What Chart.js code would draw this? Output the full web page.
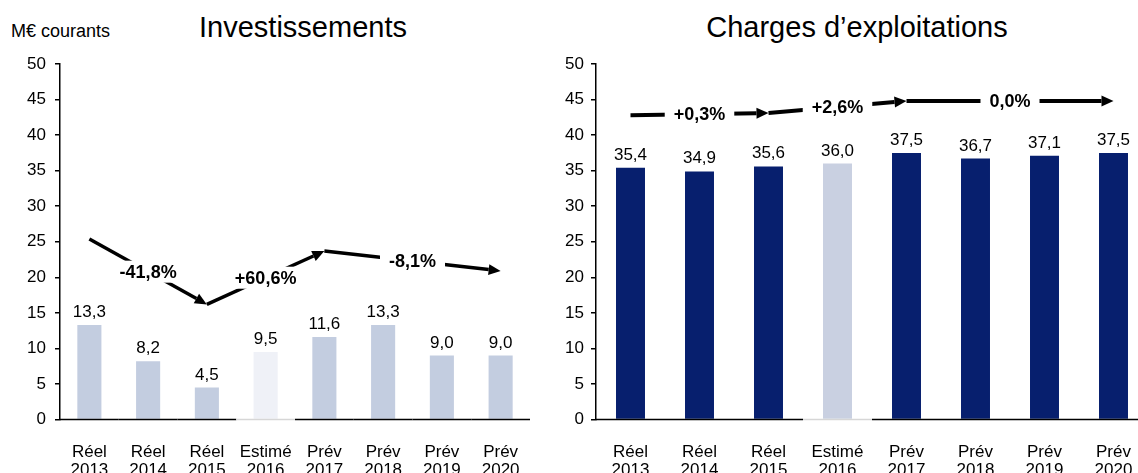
<!DOCTYPE html>
<html>
<head>
<meta charset="utf-8">
<script src="https://cdn.jsdelivr.net/npm/chart.js@4/dist/chart.umd.min.js"></script>
<style>
html, body { margin: 0; padding: 0; background: #fff; overflow: hidden; width: 1138px; height: 473px; }
canvas { position: absolute; top: 0; }
.t { position: absolute; font-family: "Liberation Sans", Arial, sans-serif; color: #000; white-space: nowrap; line-height: 1; }
.c { transform: translateX(-50%); }
</style>
</head>
<body>
<div class="t" style="left:11px; top:22px; font-size:18px;">M€ courants</div>
<div class="t c" style="left:303px; top:13px; font-size:29px;">Investissements</div>
<div class="t c" style="left:857px; top:13px; font-size:29px;">Charges d’exploitations</div>
<canvas id="invChart" width="545" height="495" style="left:0px"></canvas>
<canvas id="chgChart" width="610" height="495" style="left:540px"></canvas>
<script>
// données
const categories = [['Réel', '2013'], ['Réel', '2014'], ['Réel', '2015'], ['Estimé', '2016'],
                    ['Prév', '2017'], ['Prév', '2018'], ['Prév', '2019'], ['Prév', '2020']];
const investissements = [13.3, 8.2, 4.5, 9.5, 11.6, 13.3, 9.0, 9.0];
const charges = [35.4, 34.9, 35.6, 36.0, 37.5, 36.7, 37.1, 37.5];
const yTicks = [0, 5, 10, 15, 20, 25, 30, 35, 40, 45, 50];

// flèches de tendance (index de catégorie, niveau en M€)
const invTrendAt = [0, 2, 4, 7];
const invTrendLevel = [25.4, 16.2, 23.7, 20.9];
const invTrendLabels = ['-41,8%', '+60,6%', '-8,1%'];
const chgTrendAt = [0, 2, 4, 7];
const chgTrendLevel = [42.8, 43.1, 44.8, 44.8];
const chgTrendLabels = ['+0,3%', '+2,6%', '0,0%'];

const ESTIME = 3;
const FONT = '"Liberation Sans", Arial, sans-serif';
Chart.defaults.font.family = FONT;
Chart.defaults.font.size = 17;
Chart.defaults.color = '#000';

const fmt = v => v.toFixed(1).replace('.', ',');

function overlay(values, trendAt, trendLevel, trendLabels, lw) {
    return {
        id: 'overlay',
        afterDatasetsDraw(chart) {
            const ctx = chart.ctx;
            const xs = chart.scales.x, ys = chart.scales.y;
            const step = xs.getPixelForValue(1) - xs.getPixelForValue(0);
            const y0 = ys.getPixelForValue(0);
            ctx.save();
            // axe des abscisses (plus clair sous l'estimé)
            ctx.lineWidth = 1.5;
            values.forEach((v, i) => {
                const cx = xs.getPixelForValue(i);
                ctx.strokeStyle = i === ESTIME ? '#d6d6d6' : '#000';
                ctx.beginPath();
                ctx.moveTo(cx - step / 2, y0);
                ctx.lineTo(cx + step / 2, y0);
                ctx.stroke();
            });
            // étiquettes des barres
            ctx.font = '17px ' + FONT;
            ctx.fillStyle = '#000';
            ctx.textAlign = 'center';
            ctx.textBaseline = 'alphabetic';
            values.forEach((v, i) => {
                ctx.fillText(fmt(v), xs.getPixelForValue(i), ys.getPixelForValue(v) - 8);
            });
            // flèches
            for (let k = 0; k < trendLabels.length; k++) {
                const x1 = xs.getPixelForValue(trendAt[k]), y1 = ys.getPixelForValue(trendLevel[k]);
                const x2 = xs.getPixelForValue(trendAt[k + 1]), y2 = ys.getPixelForValue(trendLevel[k + 1]);
                const a = Math.atan2(y2 - y1, x2 - x1);
                const head = 12, half = 5.5;
                ctx.strokeStyle = '#000';
                ctx.fillStyle = '#000';
                ctx.lineWidth = lw;
                ctx.beginPath();
                ctx.moveTo(x1, y1);
                ctx.lineTo(x2 - Math.cos(a) * head, y2 - Math.sin(a) * head);
                ctx.stroke();
                ctx.beginPath();
                ctx.moveTo(x2, y2);
                ctx.lineTo(x2 - Math.cos(a) * head - Math.sin(a) * half, y2 - Math.sin(a) * head + Math.cos(a) * half);
                ctx.lineTo(x2 - Math.cos(a) * head + Math.sin(a) * half, y2 - Math.sin(a) * head - Math.cos(a) * half);
                ctx.closePath();
                ctx.fill();
                // libellé au milieu
                const mx = (x1 + x2) / 2, my = (y1 + y2) / 2;
                ctx.font = 'bold 18px ' + FONT;
                const w = ctx.measureText(trendLabels[k]).width;
                ctx.fillStyle = '#fff';
                ctx.fillRect(mx - w / 2 - 9, my - 11, w + 18, 22);
                ctx.fillStyle = '#000';
                ctx.textBaseline = 'middle';
                ctx.fillText(trendLabels[k], mx, my + 1);
                ctx.textBaseline = 'alphabetic';
            }
            ctx.restore();
        }
    };
}

function makeChart(id, values, colors, axisWidth, tickPad, padRight, barPct, trend) {
    return new Chart(document.getElementById(id), {
        type: 'bar',
        data: {
            labels: categories,
            datasets: [{
                data: values,
                backgroundColor: colors,
                borderWidth: 0,
                barPercentage: barPct,
                categoryPercentage: 1
            }]
        },
        options: {
            responsive: false,
            animation: false,
            layout: { padding: { top: 64, right: padRight, left: 0, bottom: 0 } },
            plugins: { legend: { display: false }, tooltip: { enabled: false } },
            scales: {
                x: {
                    grid: { display: false },
                    border: { display: false },
                    ticks: { padding: 15, maxRotation: 0, autoSkip: false, font: { size: 17, lineHeight: 1.1 } }
                },
                y: {
                    min: 0,
                    max: 50,
                    afterBuildTicks: s => { s.ticks = yTicks.map(v => ({ value: v })); },
                    afterFit: s => { s.width = axisWidth; },
                    grid: { drawOnChartArea: false, drawTicks: true, tickLength: 5, color: '#000', lineWidth: 1.5 },
                    border: { display: true, color: '#000', width: 1.5 },
                    ticks: { padding: tickPad, font: { size: 17 } }
                }
            }
        },
        plugins: [overlay(values, trend[0], trend[1], trend[2], trend[3])]
    });
}

const invColors = investissements.map((v, i) => i === ESTIME ? '#eff1f7' : '#c3cde0');
const chgColors = charges.map((v, i) => i === ESTIME ? '#c9d0e1' : '#071f6e');

makeChart('invChart', investissements, invColors, 60, 9, 15, 0.41,
    [invTrendAt, invTrendLevel, invTrendLabels, 3.5]);
makeChart('chgChart', charges, chgColors, 56, 7, 2, 0.42,
    [chgTrendAt, chgTrendLevel, chgTrendLabels, 4]);
</script>
</body>
</html>
